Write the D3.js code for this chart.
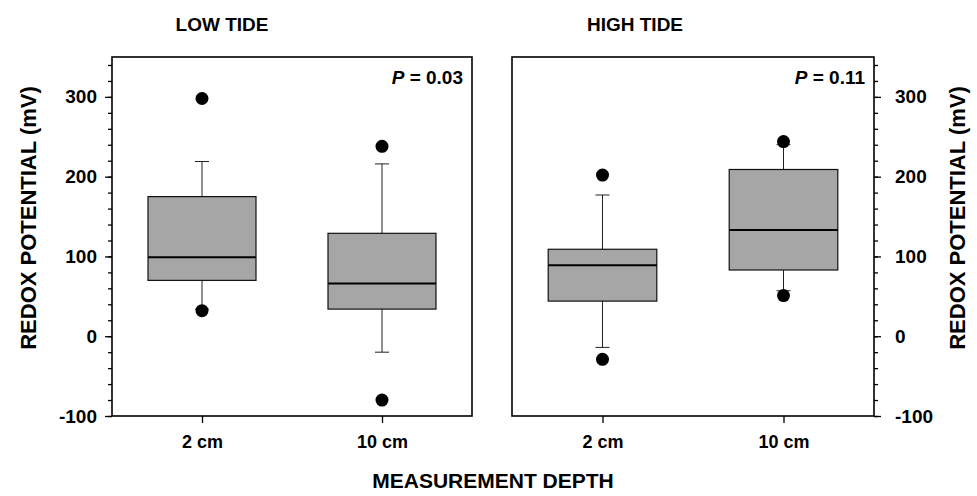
<!DOCTYPE html>
<html>
<head>
<meta charset="utf-8">
<script src="https://cdn.jsdelivr.net/npm/d3@7"></script>
<style>
  body { margin: 0; background: #fff; }
  svg { display: block; font-family: "Liberation Sans", Arial, sans-serif; }
</style>
</head>
<body>
<div id="chart"></div>
<script>
// Box plot statistics (mV)
const depths = ['2 cm', '10 cm'];
const panelTitles = ['LOW TIDE', 'HIGH TIDE'];
const pValues = ['0.03', '0.11'];

const lowWhiskerLo = [34, -20];
const lowQ1 = [70, 34];
const lowMedian = [99, 66];
const lowQ3 = [175, 129];
const lowWhiskerHi = [219, 216];
const lowOutliers = [[298, 32], [238, -80]];

const highWhiskerLo = [-14, 57];
const highQ1 = [44, 83];
const highMedian = [89, 133];
const highQ3 = [109, 209];
const highWhiskerHi = [177, 240];
const highOutliers = [[202, -29], [244, 51]];

const yMajorTicks = [-100, 0, 100, 200, 300];
const yMinorTicks = d3.range(-100, 351, 20);

const width = 977;
const height = 496;
const plotTop = 57;
const plotBottom = 416;
const panelX = [[112, 472], [512, 874]];

const svg = d3.select('#chart')
  .append('svg')
  .attr('width', width)
  .attr('height', height);

const y = d3.scaleLinear()
  .domain([-100, 350])
  .range([plotBottom, plotTop]);

/**
 * Build the per-panel box records from the named arrays
 */
function boxes(lo, q1, med, q3, hi, outliers) {
  return depths.map((d, i) => ({
    depth: d, lo: lo[i], q1: q1[i], median: med[i], q3: q3[i], hi: hi[i], outliers: outliers[i]
  }));
}

const panels = [
  boxes(lowWhiskerLo, lowQ1, lowMedian, lowQ3, lowWhiskerHi, lowOutliers),
  boxes(highWhiskerLo, highQ1, highMedian, highQ3, highWhiskerHi, highOutliers)
];

function styleAxis(g, size) {
  g.select('.domain').remove();
  g.selectAll('line').attr('stroke', '#000').attr('stroke-width', 1.3);
  g.selectAll('text')
    .attr('fill', '#000')
    .attr('font-size', size)
    .attr('font-weight', 'bold');
}

panels.forEach((data, p) => {
  const [x0, x1] = panelX[p];
  const x = d3.scalePoint().domain(depths).range([x0, x1]).padding(0.5);
  const boxW = x.step() * 0.6;
  const capW = 14;
  const g = svg.append('g');

  // whiskers
  data.forEach(d => {
    const cx = x(d.depth);
    const wg = g.append('g').attr('stroke', '#222').attr('stroke-width', 1);
    wg.append('line').attr('x1', cx).attr('x2', cx).attr('y1', y(d.q3)).attr('y2', y(d.hi));
    wg.append('line').attr('x1', cx).attr('x2', cx).attr('y1', y(d.q1)).attr('y2', y(d.lo));
    wg.append('line').attr('x1', cx - capW / 2).attr('x2', cx + capW / 2).attr('y1', y(d.hi)).attr('y2', y(d.hi));
    wg.append('line').attr('x1', cx - capW / 2).attr('x2', cx + capW / 2).attr('y1', y(d.lo)).attr('y2', y(d.lo));
  });

  // boxes
  g.selectAll('.box')
    .data(data)
    .enter()
    .append('rect')
    .attr('class', 'box')
    .attr('x', d => x(d.depth) - boxW / 2)
    .attr('y', d => y(d.q3))
    .attr('width', boxW)
    .attr('height', d => y(d.q1) - y(d.q3))
    .attr('fill', '#a6a6a6')
    .attr('stroke', '#111')
    .attr('stroke-width', 1.2);

  // medians
  g.selectAll('.median')
    .data(data)
    .enter()
    .append('line')
    .attr('x1', d => x(d.depth) - boxW / 2)
    .attr('x2', d => x(d.depth) + boxW / 2)
    .attr('y1', d => y(d.median))
    .attr('y2', d => y(d.median))
    .attr('stroke', '#000')
    .attr('stroke-width', 2);

  // outliers
  data.forEach(d => {
    g.selectAll(null)
      .data(d.outliers)
      .enter()
      .append('circle')
      .attr('cx', x(d.depth))
      .attr('cy', v => y(v))
      .attr('r', 6.5)
      .attr('fill', '#000');
  });

  // frame
  g.append('rect')
    .attr('x', x0)
    .attr('y', plotTop)
    .attr('width', x1 - x0)
    .attr('height', plotBottom - plotTop)
    .attr('fill', 'none')
    .attr('stroke', '#000')
    .attr('stroke-width', 1.6);

  // x axis
  g.append('g')
    .attr('transform', `translate(0,${plotBottom})`)
    .call(d3.axisBottom(x).tickSize(7).tickPadding(12))
    .call(a => styleAxis(a, '18px'));

  // y axis: left on low tide, right on high tide
  const axisMajor = p === 0 ? d3.axisLeft(y) : d3.axisRight(y);
  const axisMinor = p === 0 ? d3.axisLeft(y) : d3.axisRight(y);
  const ax = p === 0 ? x0 : x1;
  g.append('g')
    .attr('transform', `translate(${ax},0)`)
    .call(axisMinor.tickValues(yMinorTicks).tickSize(4).tickFormat(''))
    .call(a => styleAxis(a, '0px'));
  g.append('g')
    .attr('transform', `translate(${ax},0)`)
    .call(axisMajor.tickValues(yMajorTicks).tickSize(7)
      .tickPadding(p === 0 ? 8 : 14).tickFormat(d => String(d)))
    .call(a => styleAxis(a, '19px'));

  // P value
  const pt = g.append('text')
    .attr('x', x1 - 9)
    .attr('y', 84)
    .attr('text-anchor', 'end')
    .attr('font-size', '19px')
    .attr('font-weight', 'bold');
  pt.append('tspan').attr('font-style', 'italic').text('P');
  pt.append('tspan').text(' = ' + pValues[p]);

  // panel title
  svg.append('text')
    .attr('x', p === 0 ? 222 : 635)
    .attr('y', 31)
    .attr('text-anchor', 'middle')
    .attr('font-size', '19px')
    .attr('font-weight', 'bold')
    .text(panelTitles[p]);
});

// y axis titles
[28, 957].forEach(tx => {
  svg.append('text')
    .attr('transform', `translate(${tx},218) rotate(-90)`)
    .attr('text-anchor', 'middle')
    .attr('dominant-baseline', 'central')
    .attr('font-size', '22px')
    .attr('font-weight', 'bold')
    .text('REDOX POTENTIAL (mV)');
});

// x axis title
svg.append('text')
  .attr('x', 493)
  .attr('y', 488)
  .attr('text-anchor', 'middle')
  .attr('font-size', '21px')
  .attr('font-weight', 'bold')
  .text('MEASUREMENT DEPTH');
</script>
</body>
</html>
